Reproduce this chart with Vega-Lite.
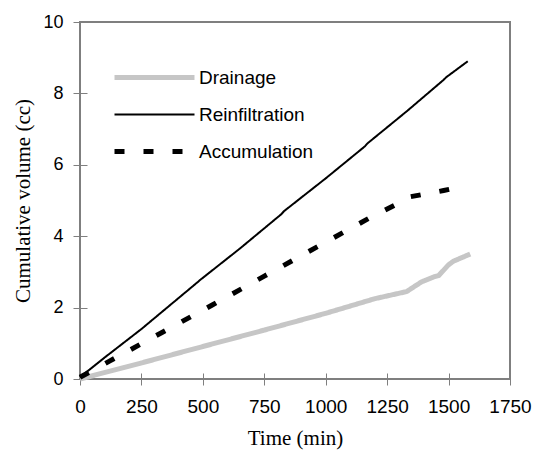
{
  "$schema": "https://vega.github.io/schema/vega-lite/v6.json",
  "width": 430,
  "height": 357,
  "autosize": {"type": "none"},
  "padding": {"left": 80, "top": 22, "right": 24, "bottom": 71},
  "background": "white",
  "config": {
    "view": {"stroke": "#7f7f7f", "strokeWidth": 2},
    "axis": {"grid": false, "domain": false, "tickColor": "#7f7f7f", "tickWidth": 1, "labelOverlap": false, "labelFlush": false, "format": "d"},
    "legend": {"labelFont": "Liberation Sans", "labelFontSize": 19, "labelColor": "#000"}
  },
  "data": {
    "values": [
      {"series": "Drainage", "t": 0, "v": 0.0},
      {"series": "Drainage", "t": 250, "v": 0.45},
      {"series": "Drainage", "t": 500, "v": 0.91},
      {"series": "Drainage", "t": 750, "v": 1.37},
      {"series": "Drainage", "t": 1000, "v": 1.84},
      {"series": "Drainage", "t": 1200, "v": 2.25},
      {"series": "Drainage", "t": 1330, "v": 2.45},
      {"series": "Drainage", "t": 1345, "v": 2.52},
      {"series": "Drainage", "t": 1390, "v": 2.72},
      {"series": "Drainage", "t": 1440, "v": 2.86},
      {"series": "Drainage", "t": 1460, "v": 2.9},
      {"series": "Drainage", "t": 1500, "v": 3.2},
      {"series": "Drainage", "t": 1520, "v": 3.3},
      {"series": "Drainage", "t": 1588, "v": 3.5},
      {"series": "Reinfiltration", "t": 0, "v": 0.05},
      {"series": "Reinfiltration", "t": 100, "v": 0.6},
      {"series": "Reinfiltration", "t": 250, "v": 1.4},
      {"series": "Reinfiltration", "t": 480, "v": 2.72},
      {"series": "Reinfiltration", "t": 490, "v": 2.78},
      {"series": "Reinfiltration", "t": 650, "v": 3.65},
      {"series": "Reinfiltration", "t": 820, "v": 4.62},
      {"series": "Reinfiltration", "t": 830, "v": 4.7},
      {"series": "Reinfiltration", "t": 1000, "v": 5.62},
      {"series": "Reinfiltration", "t": 1160, "v": 6.52},
      {"series": "Reinfiltration", "t": 1170, "v": 6.6},
      {"series": "Reinfiltration", "t": 1330, "v": 7.5},
      {"series": "Reinfiltration", "t": 1480, "v": 8.38},
      {"series": "Reinfiltration", "t": 1490, "v": 8.45},
      {"series": "Reinfiltration", "t": 1578, "v": 8.9},
      {"series": "Accumulation", "t": 0, "v": 0.05},
      {"series": "Accumulation", "t": 120, "v": 0.5},
      {"series": "Accumulation", "t": 330, "v": 1.29},
      {"series": "Accumulation", "t": 540, "v": 2.08},
      {"series": "Accumulation", "t": 750, "v": 2.88},
      {"series": "Accumulation", "t": 965, "v": 3.7},
      {"series": "Accumulation", "t": 1175, "v": 4.5},
      {"series": "Accumulation", "t": 1290, "v": 4.9},
      {"series": "Accumulation", "t": 1340, "v": 5.1},
      {"series": "Accumulation", "t": 1420, "v": 5.2},
      {"series": "Accumulation", "t": 1480, "v": 5.28},
      {"series": "Accumulation", "t": 1536, "v": 5.36}
    ]
  },
  "mark": {"type": "line", "strokeCap": "butt", "strokeJoin": "miter"},
  "encoding": {
    "x": {
      "field": "t", "type": "quantitative",
      "scale": {"domain": [0, 1750], "nice": false},
      "axis": {
        "title": "Time (min)", "values": [0, 250, 500, 750, 1000, 1250, 1500, 1750],
        "offset": -6, "tickSize": 12, "labelPadding": 12,
        "labelFont": "Liberation Sans", "labelFontSize": 19, "labelColor": "#000",
        "titleFont": "Liberation Serif", "titleFontSize": 21, "titleFontWeight": "normal", "titleColor": "#000", "titlePadding": 11
      }
    },
    "y": {
      "field": "v", "type": "quantitative",
      "scale": {"domain": [0, 10], "nice": false},
      "axis": {
        "title": "Cumulative volume (cc)", "values": [0, 2, 4, 6, 8, 10],
        "offset": -7, "tickSize": 14, "labelPadding": 10,
        "labelFont": "Liberation Sans", "labelFontSize": 18, "labelColor": "#000",
        "titleFont": "Liberation Serif", "titleFontSize": 21, "titleFontWeight": "normal", "titleColor": "#000", "titlePadding": 9
      }
    },
    "color": {
      "field": "series", "type": "nominal",
      "scale": {"domain": ["Drainage", "Reinfiltration", "Accumulation"], "range": ["#c6c6c6", "#000000", "#000000"]},
      "legend": {"title": null, "orient": "none", "legendX": 32, "legendY": 37, "symbolType": "stroke", "symbolSize": 6400, "labelOffset": 2, "rowPadding": 0, "clipHeight": 37}
    },
    "strokeDash": {
      "field": "series", "type": "nominal",
      "scale": {"domain": ["Drainage", "Reinfiltration", "Accumulation"], "range": [[1, 0], [1, 0], [10, 19]]}
    },
    "strokeWidth": {
      "field": "series", "type": "nominal",
      "scale": {"type": "ordinal", "domain": ["Drainage", "Reinfiltration", "Accumulation"], "range": [5, 2, 5]}
    }
  }
}
